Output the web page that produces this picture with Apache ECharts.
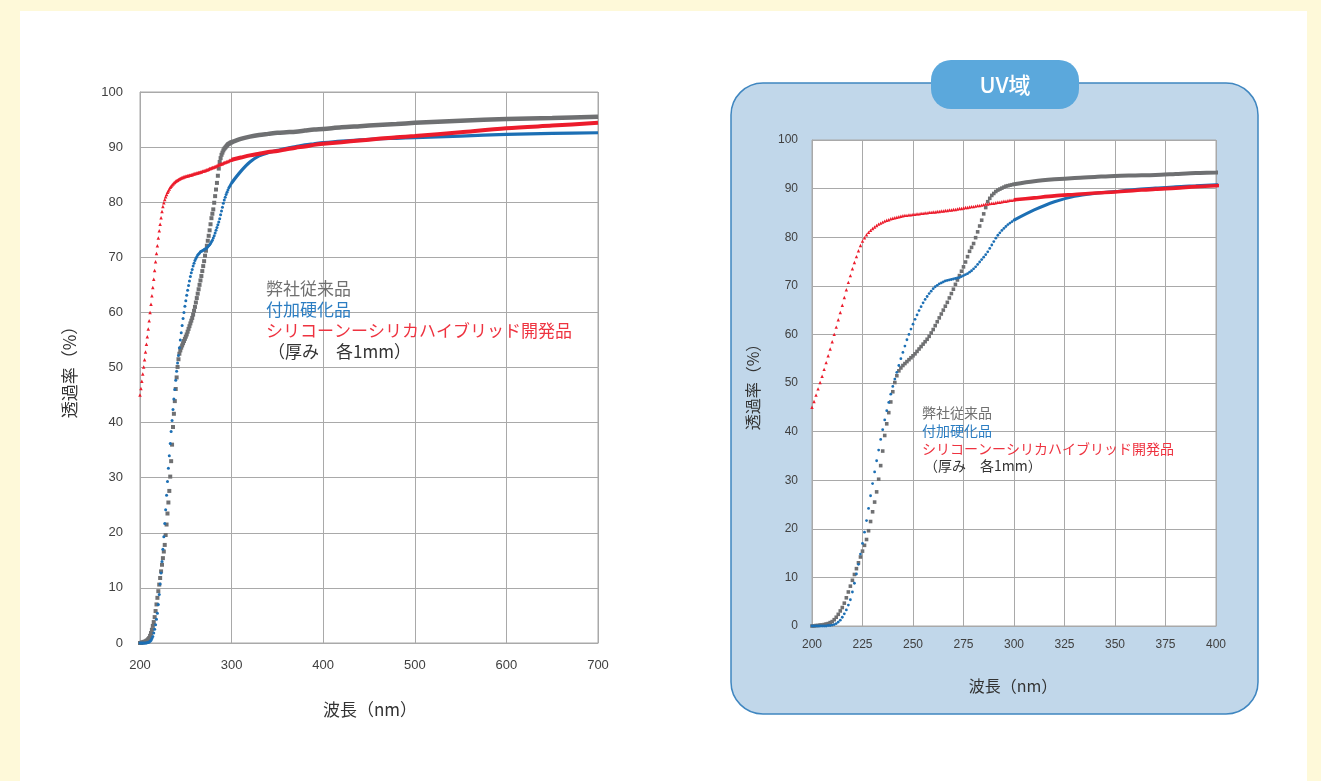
<!DOCTYPE html>
<html>
<head>
<meta charset="utf-8">
<title>透過率スペクトル</title>
<script src="https://cdn.jsdelivr.net/npm/echarts@6/dist/echarts.min.js"></script>
<style>
  html, body { margin: 0; padding: 0; background: #fef9d9; }
  #chart { width: 1321px; height: 781px; }
</style>
</head>
<body>
<div id="chart"></div>
<script>
// Measured transmittance (%) — dense part sampled every 1 nm from 200 nm to 300 nm
const DENSE_START_NM = 200;
const DENSE_STEP_NM = 1;

const grayDense = [
  0.0, 0.0, 0.1, 0.1, 0.2, 0.2, 0.3, 0.4, 0.5, 0.7,
  0.9, 1.3, 1.8, 2.4, 3.1, 3.8, 4.7, 5.8, 7.0, 8.2,
  9.4, 10.6, 11.8, 13.0, 14.2, 15.4, 16.6, 17.8, 19.6, 21.5,
  23.5, 25.5, 27.6, 30.2, 33.0, 36.0, 39.2, 41.6, 43.9, 46.1,
  48.2, 50.1, 51.5, 52.5, 53.1, 53.6, 54.0, 54.4, 54.8, 55.2,
  55.6, 56.0, 56.5, 57.0, 57.5, 58.0, 58.5, 59.0, 59.6, 60.3,
  61.0, 61.8, 62.6, 63.4, 64.2, 65.0, 65.8, 66.6, 67.5, 68.4,
  69.3, 70.3, 71.2, 72.1, 73.0, 73.9, 74.9, 76.0, 77.1, 77.9,
  78.7, 79.9, 81.1, 82.3, 83.5, 84.8, 86.1, 87.3, 88.0, 88.6,
  89.0, 89.4, 89.7, 89.9, 90.1, 90.3, 90.5, 90.6, 90.7, 90.8,
  90.9
];

const blueDense = [
  0.0, 0.0, 0.0, 0.0, 0.0, 0.0, 0.0, 0.0, 0.1, 0.1,
  0.2, 0.3, 0.5, 0.8, 1.2, 1.8, 2.5, 3.3, 4.3, 5.4,
  7.0, 8.8, 10.7, 12.7, 14.8, 17.0, 19.3, 21.7, 24.2, 26.8,
  29.3, 31.7, 34.0, 36.2, 38.4, 40.4, 42.4, 44.3, 46.0, 47.7,
  49.3, 50.8, 52.2, 53.6, 55.0, 56.3, 57.6, 58.9, 60.0, 61.1,
  62.1, 63.1, 64.0, 64.9, 65.7, 66.5, 67.2, 67.8, 68.4, 68.9,
  69.4, 69.8, 70.1, 70.4, 70.6, 70.8, 71.0, 71.1, 71.2, 71.3,
  71.4, 71.5, 71.6, 71.7, 71.9, 72.1, 72.3, 72.5, 72.8, 73.1,
  73.5, 73.9, 74.4, 74.9, 75.4, 75.9, 76.4, 77.0, 77.7, 78.4,
  79.1, 79.8, 80.4, 80.9, 81.4, 81.8, 82.2, 82.6, 82.9, 83.2,
  83.5
];

const redDense = [
  45.0, 46.2, 47.5, 48.8, 50.1, 51.4, 52.8, 54.2, 55.6, 57.0,
  58.5, 60.0, 61.5, 63.0, 64.5, 66.0, 67.6, 69.2, 70.7, 72.1,
  73.5, 74.8, 76.0, 77.2, 78.3, 79.2, 79.9, 80.5, 81.0, 81.4,
  81.8, 82.1, 82.4, 82.7, 82.9, 83.1, 83.3, 83.5, 83.6, 83.8,
  83.9, 84.0, 84.1, 84.2, 84.3, 84.4, 84.5, 84.5, 84.6, 84.6,
  84.7, 84.7, 84.8, 84.8, 84.9, 84.9, 85.0, 85.0, 85.1, 85.1,
  85.2, 85.2, 85.3, 85.3, 85.4, 85.4, 85.5, 85.5, 85.6, 85.6,
  85.7, 85.7, 85.8, 85.9, 85.9, 86.0, 86.1, 86.1, 86.2, 86.3,
  86.3, 86.4, 86.5, 86.5, 86.6, 86.7, 86.8, 86.8, 86.9, 87.0,
  87.0, 87.1, 87.2, 87.2, 87.3, 87.4, 87.4, 87.5, 87.6, 87.6,
  87.7
];

// Longer wavelengths, where the curves are flat
const tailWl    = [300, 310, 320, 330, 340, 350, 360, 370, 380, 390, 400, 420, 440, 460, 480, 500, 550, 600, 650, 700];
const grayTail  = [90.9, 91.5, 91.9, 92.2, 92.4, 92.6, 92.7, 92.8, 93.0, 93.2, 93.3, 93.6, 93.8, 94.0, 94.2, 94.4, 94.8, 95.1, 95.3, 95.5];
const blueTail  = [83.5, 85.6, 87.3, 88.4, 89.0, 89.4, 89.8, 90.1, 90.4, 90.6, 90.8, 91.1, 91.3, 91.5, 91.6, 91.7, 92.0, 92.3, 92.5, 92.6];
const redTail   = [87.7, 88.1, 88.5, 88.8, 89.1, 89.3, 89.6, 89.9, 90.1, 90.4, 90.6, 90.9, 91.2, 91.5, 91.8, 92.0, 92.7, 93.4, 93.9, 94.4];

// Axis ranges
const fullRange = { min: 200, max: 700, interval: 100 };
const uvRange   = { min: 200, max: 400, interval: 25 };
const yRange    = { min: 0, max: 100, interval: 10 };

// Legend-like notes
const noteLines = ['弊社従来品', '付加硬化品', 'シリコーンーシリカハイブリッド開発品', '（厚み　各1mm）'];

const COLORS = { gray: '#6f7072', blue: '#1c6fb4', red: '#ec1c2c' };
const NOTE_COLORS = ['#707070', '#2b7dc2', '#ee3340', '#333333'];
const GRID_COLOR = '#a9a9a9';
const JP_FONT = '"Noto Sans CJK JP", "Noto Sans", sans-serif';
const NUM_FONT = '"Liberation Sans", "DejaVu Sans", sans-serif';

function densePairs(values) {
  return values.map((v, i) => [DENSE_START_NM + i * DENSE_STEP_NM, v]);
}
function tailPairs(values) {
  return tailWl.map((w, i) => [w, values[i]]);
}

function xAxisFor(range, gridIndex, fontSize, margin) {
  return {
    gridIndex, type: 'value', min: range.min, max: range.max, interval: range.interval,
    axisLine: { show: true, lineStyle: { color: GRID_COLOR, width: 1 } },
    axisTick: { show: false },
    splitLine: { show: true, lineStyle: { color: GRID_COLOR, width: 1 } },
    axisLabel: { color: '#404040', fontSize, fontFamily: NUM_FONT, margin }
  };
}
function yAxisFor(gridIndex, fontSize, margin) {
  return {
    gridIndex, type: 'value', min: yRange.min, max: yRange.max, interval: yRange.interval,
    axisLine: { show: true, lineStyle: { color: GRID_COLOR, width: 1 } },
    axisTick: { show: false },
    splitLine: { show: true, lineStyle: { color: GRID_COLOR, width: 1 } },
    axisLabel: { color: '#404040', fontSize, fontFamily: NUM_FONT, margin }
  };
}

function seriesFor(axisIndex, sizes) {
  const defs = [
    { key: 'gray', dense: grayDense, tail: grayTail, symbol: 'rect', size: sizes.gray, width: sizes.grayLine },
    { key: 'blue', dense: blueDense, tail: blueTail, symbol: 'circle', size: sizes.blue, width: sizes.blueLine },
    { key: 'red', dense: redDense, tail: redTail, symbol: 'triangle', size: sizes.red, width: sizes.redLine }
  ];
  const out = [];
  defs.forEach(d => {
    out.push({
      type: 'scatter', xAxisIndex: axisIndex, yAxisIndex: axisIndex,
      data: densePairs(d.dense), symbol: d.symbol, symbolSize: d.size,
      itemStyle: { color: COLORS[d.key], opacity: 1 },
      silent: true, animation: false, clip: true
    });
    out.push({
      type: 'line', xAxisIndex: axisIndex, yAxisIndex: axisIndex,
      data: tailPairs(d.tail), showSymbol: false, smooth: 0.3,
      lineStyle: { color: COLORS[d.key], width: d.width },
      silent: true, animation: false, clip: true
    });
  });
  return out;
}

function noteTexts(x, y0, step, fontSize) {
  return noteLines.map((t, i) => ({
    type: 'text', x: x + (i === 3 ? 2 : 0), y: y0 + i * step, z: 10,
    style: { text: t, fill: NOTE_COLORS[i], font: fontSize + 'px ' + JP_FONT, align: 'left', verticalAlign: 'middle' }
  }));
}

const chart = echarts.init(document.getElementById('chart'), null, { renderer: 'canvas' });

const option = {
  animation: false,
  backgroundColor: '#fef9d9',
  grid: [
    { left: 140, top: 92, width: 458, height: 551, show: true, backgroundColor: '#ffffff', borderColor: GRID_COLOR, borderWidth: 1 },
    { left: 812, top: 140, width: 404, height: 486, show: true, backgroundColor: '#ffffff', borderColor: GRID_COLOR, borderWidth: 1 }
  ],
  xAxis: [ xAxisFor(fullRange, 0, 13, 16), xAxisFor(uvRange, 1, 12, 13) ],
  yAxis: [ yAxisFor(0, 13, 17), yAxisFor(1, 12, 14) ],
  series: [
    ...seriesFor(0, { gray: 4, blue: 3, red: 3.5, grayLine: 4.5, blueLine: 3.2, redLine: 4 }),
    ...seriesFor(1, { gray: 3.6, blue: 2.8, red: 3.4, grayLine: 4, blueLine: 3, redLine: 3.6 })
  ],
  graphic: { elements: [
    // page panel
    { type: 'rect', z: -20, shape: { x: 20, y: 11, width: 1287, height: 770 }, style: { fill: '#ffffff' }, silent: true },
    // UV zoom frame
    { type: 'rect', z: -19, shape: { x: 731, y: 83, width: 527, height: 631, r: 32 },
      style: { fill: '#c1d7ea', stroke: '#3f86c0', lineWidth: 1.5 }, silent: true },
    { type: 'rect', z: 5, shape: { x: 931, y: 60, width: 148, height: 49, r: 20 },
      style: { fill: '#5ba8dc' }, silent: true },
    { type: 'text', z: 6, x: 1005, y: 85,
      style: { text: 'UV域', fill: '#ffffff', font: '500 22px ' + JP_FONT, align: 'center', verticalAlign: 'middle' } },
    // axis names
    { type: 'text', z: 6, x: 70, y: 368, rotation: Math.PI / 2,
      style: { text: '透過率（%）', fill: '#333333', font: '17px ' + JP_FONT, align: 'center', verticalAlign: 'middle' } },
    { type: 'text', z: 6, x: 370, y: 710,
      style: { text: '波長（nm）', fill: '#333333', font: '17px ' + JP_FONT, align: 'center', verticalAlign: 'middle' } },
    { type: 'text', z: 6, x: 753, y: 383, rotation: Math.PI / 2,
      style: { text: '透過率（%）', fill: '#333333', font: '16px ' + JP_FONT, align: 'center', verticalAlign: 'middle' } },
    { type: 'text', z: 6, x: 1013, y: 686,
      style: { text: '波長（nm）', fill: '#333333', font: '16px ' + JP_FONT, align: 'center', verticalAlign: 'middle' } },
    ...noteTexts(266, 289, 20.7, 17),
    ...noteTexts(922, 413, 17.7, 14)
  ] }
};

chart.setOption(option);
</script>
</body>
</html>
